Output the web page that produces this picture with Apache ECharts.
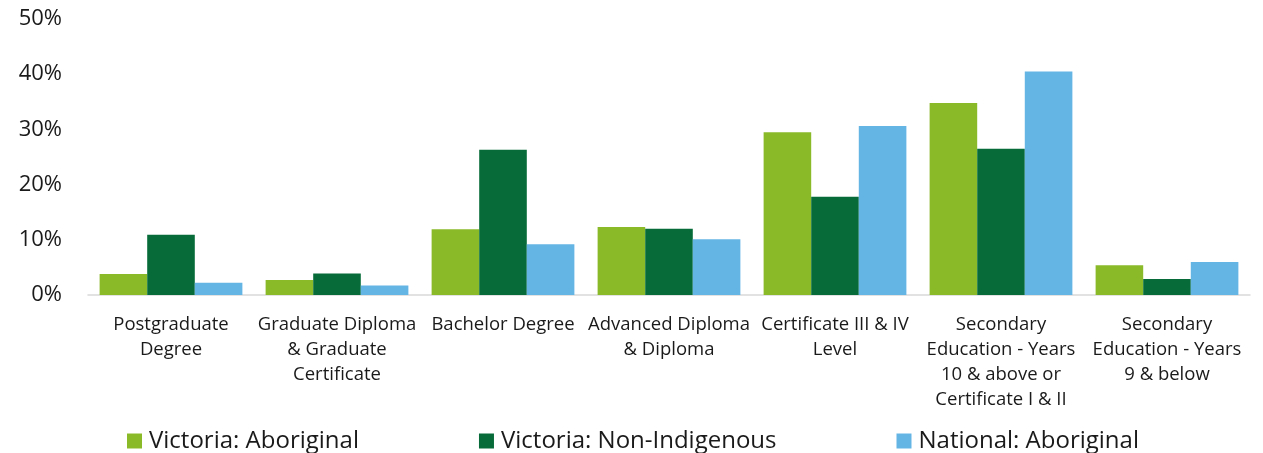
<!DOCTYPE html>
<html>
<head>
<meta charset="utf-8">
<script src="https://cdn.jsdelivr.net/npm/echarts@6/dist/echarts.min.js"></script>
<style>
  html, body { margin: 0; padding: 0; background: #fff; }
  #chart { width: 1263px; height: 453px; }
</style>
</head>
<body>
<div id="chart"></div>
<script>
  // categories and values (% of population)
  var categories = [
    'Postgraduate\nDegree',
    'Graduate Diploma\n& Graduate\nCertificate',
    'Bachelor Degree',
    'Advanced Diploma\n& Diploma',
    'Certificate III & IV\nLevel',
    'Secondary\nEducation - Years\n10 & above or\nCertificate I & II',
    'Secondary\nEducation - Years\n9 & below'
  ]
  var vicAboriginal = [3.8, 2.7, 11.9, 12.3, 29.5, 34.8, 5.4]
  var vicNonIndigenous = [10.9, 3.9, 26.3, 12.0, 17.8, 26.5, 2.9]
  var natAboriginal = [2.2, 1.7, 9.2, 10.1, 30.6, 40.5, 6.0]
  var yTicks = [0, 10, 20, 30, 40, 50]

  var chart = echarts.init(document.getElementById('chart'))
  var font = '"Open Sans", "Noto Sans", sans-serif'
  chart.setOption({
    animation: false,
    textStyle: { fontFamily: font },
    grid: { left: 88, right: 13, top: 19, bottom: 158 },
    legend: {
      left: 122,
      top: 424,
      itemWidth: 15,
      itemHeight: 15,
      itemGap: 120,
      icon: 'rect',
      textStyle: { fontSize: 24, color: '#1a1a1a', fontFamily: font, padding: [0, 0, 0, 2] },
      data: ['Victoria: Aboriginal', 'Victoria: Non-Indigenous', 'National: Aboriginal']
    },
    xAxis: {
      type: 'category',
      data: categories,
      axisLine: { lineStyle: { color: '#d9d9d9', width: 1.5 } },
      axisTick: { show: false },
      axisLabel: {
        interval: 0,
        margin: 17,
        fontSize: 18.5,
        lineHeight: 25,
        color: '#1a1a1a',
        fontFamily: font
      }
    },
    yAxis: {
      type: 'value',
      min: yTicks[0],
      max: yTicks[yTicks.length - 1],
      interval: 10,
      splitLine: { show: false },
      axisLine: { show: false },
      axisTick: { show: false },
      axisLabel: {
        formatter: '{value}%',
        fontSize: 22,
        margin: 26,
        color: '#1a1a1a',
        fontFamily: font
      }
    },
    series: [
      {
        name: 'Victoria: Aboriginal',
        type: 'bar',
        data: vicAboriginal,
        barGap: '0%',
        barCategoryGap: '14%',
        itemStyle: { color: '#8aba28' }
      },
      {
        name: 'Victoria: Non-Indigenous',
        type: 'bar',
        data: vicNonIndigenous,
        barGap: '0%',
        barCategoryGap: '14%',
        itemStyle: { color: '#066b38' }
      },
      {
        name: 'National: Aboriginal',
        type: 'bar',
        data: natAboriginal,
        barGap: '0%',
        barCategoryGap: '14%',
        itemStyle: { color: '#64b4e4' }
      }
    ]
  })
</script>
</body>
</html>
